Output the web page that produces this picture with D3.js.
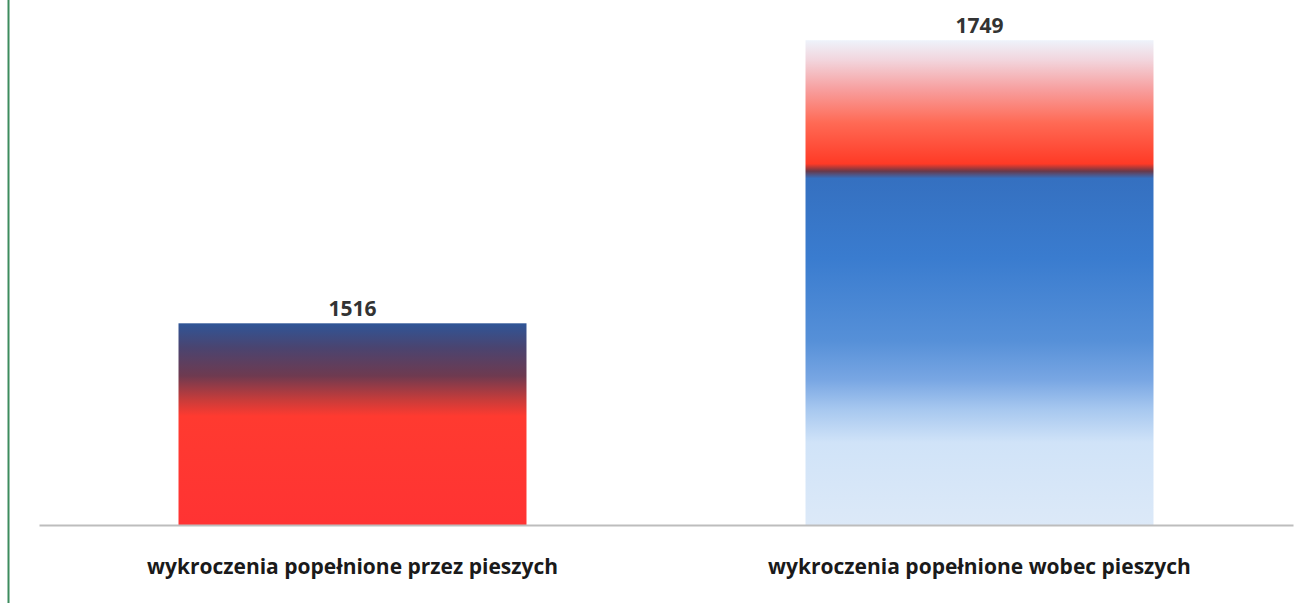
<!DOCTYPE html>
<html>
<head>
<meta charset="utf-8">
<script src="https://cdn.jsdelivr.net/npm/d3@7"></script>
<style>
  body { margin: 0; background: #fff; }
  svg { display: block; }
  text { font-family: "Open Sans", Lato, sans-serif; font-weight: bold; }
</style>
</head>
<body>
<div id="vis"></div>
<script>
// data
var categories = ["wykroczenia popełnione przez pieszych", "wykroczenia popełnione wobec pieszych"];
var values = [1516, 1749];

var width = 1310,
    height = 603,
    margin = { top: 39, right: 17, bottom: 78, left: 39 };

var svg = d3.select("#vis").append("svg")
    .attr("width", width)
    .attr("height", height);

// left green frame line
svg.append("line")
    .attr("x1", 8.5).attr("x2", 8.5)
    .attr("y1", 0).attr("y2", height)
    .attr("stroke", "#3d8c5e")
    .attr("stroke-width", 2);

var x = d3.scaleBand()
    .domain(categories)
    .range([margin.left, width - margin.right])
    .paddingInner(0.445)
    .paddingOuter(0.2225);

// value axis does not start at zero in the original
var y = d3.scaleLinear()
    .domain([1350, 1750])
    .range([height - margin.bottom, margin.top]);

// gradients, one per bar
var defs = svg.append("defs");
var gradStops = [
  [
    [0, "#2f5597"], [0.12, "#4a4470"], [0.26, "#6e3a50"], [0.38, "#c83c3a"],
    [0.46, "#ff3a30"], [1, "#ff3333"]
  ],
  [
    [0, "#eef3fb"], [0.04, "#f2d6de"], [0.1, "#f7a0a0"], [0.17, "#ff6a55"],
    [0.255, "#ff3a26"], [0.27, "#6a3848"], [0.285, "#3570c0"], [0.45, "#3a7ccf"],
    [0.62, "#5690d8"], [0.7, "#78a6e3"], [0.76, "#a6c7ef"], [0.83, "#d0e3f8"], [1, "#dce9f8"]
  ]
];

gradStops.forEach(function(stops, i) {
  var g = defs.append("linearGradient")
      .attr("id", "grad" + i)
      .attr("x1", 0).attr("y1", 0)
      .attr("x2", 0).attr("y2", 1);
  g.selectAll("stop")
    .data(stops)
    .enter().append("stop")
      .attr("offset", function(d) { return d[0]; })
      .attr("stop-color", function(d) { return d[1]; });
});

// bars
svg.append("g")
  .selectAll("rect")
  .data(values)
  .enter().append("rect")
    .attr("x", function(d, i) { return x(categories[i]); })
    .attr("y", function(d) { return y(d); })
    .attr("width", x.bandwidth())
    .attr("height", function(d) { return y.range()[0] - y(d); })
    .attr("fill", function(d, i) { return "url(#grad" + i + ")"; });

// baseline axis
var axis = svg.append("g")
    .attr("transform", "translate(0," + y.range()[0] + ")")
    .call(d3.axisBottom(x).tickSize(0).tickPadding(34));

axis.select(".domain")
    .attr("stroke", "#bdbdbd")
    .attr("stroke-width", 2);

axis.selectAll("text")
    .attr("fill", "#1a1a1a")
    .style("font-size", "21px");

// value labels
svg.append("g")
  .selectAll("text")
  .data(values)
  .enter().append("text")
    .attr("x", function(d, i) { return x(categories[i]) + x.bandwidth() / 2; })
    .attr("y", function(d) { return y(d) - 7; })
    .attr("text-anchor", "middle")
    .attr("fill", "#333")
    .style("font-size", "21px")
    .text(function(d) { return d; });
</script>
</body>
</html>
